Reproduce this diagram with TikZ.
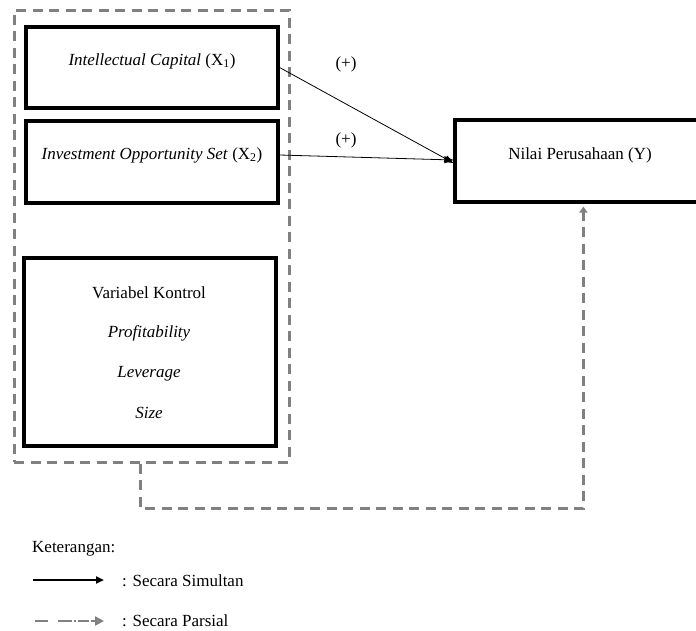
\documentclass[tikz,border=0pt]{standalone}
\usepackage{fontspec}
\setmainfont{Liberation Serif}
\usetikzlibrary{arrows.meta,calc}
\definecolor{dgray}{HTML}{808080}
\tikzset{
  vbox/.style={draw=black,line width=3.2pt,minimum width=252pt,inner sep=0pt,align=center},
  grpbox/.style={draw=dgray,line width=3pt,dash pattern=on 10pt off 6.5pt,inner sep=0pt},
  link/.style={draw=black,line width=0.8pt,-{Triangle[length=9pt,width=7pt]}},
  partial/.style={draw=dgray,line width=3pt,dash pattern=on 10pt off 6.5pt},
  lbl/.style={font=\fontsize{17}{20}\selectfont,inner sep=0pt},
}
\begin{document}
\begin{tikzpicture}[x=1pt,y=-1pt]
\useasboundingbox (0,0) rectangle (696,630);
\clip (0,0) rectangle (696,630);
\node[grpbox,minimum width=275pt,minimum height=452pt] (grp) at (151.5,236) {};
\node[vbox,minimum height=81pt] (b1) at (152,67.5) {};
\node[lbl] (t1) at (152,61) {\textit{Intellectual Capital} (X\textsubscript{1})};
\node[vbox,minimum height=82pt] (b2) at (152,162) {};
\node[lbl] (t2) at (152,155) {\textit{Investment Opportunity Set} (X\textsubscript{2})};
\node[vbox,minimum height=188pt] (b3) at (150,352) {};
\node[lbl] (v1) at (149,293) {Variabel Kontrol};
\node[lbl] (v2) at (149,333) {\textit{Profitability}};
\node[lbl] (v3) at (149,374) {\textit{Leverage}};
\node[lbl] (v4) at (149,413) {\textit{Size}};
\node[vbox,minimum width=250pt,minimum height=82pt] (y) at (580,161) {};
\node[lbl] (ty) at (580,155) {Nilai Perusahaan (Y)};
\node[lbl] (p1) at (346,64) {(+)};
\node[lbl] (p2) at (346,140) {(+)};
\draw[link] (b1.east) -- ($(y.west)+(0,2)$);
\draw[link] ($(b2.east)+(0,-7)$) -- ($(y.west)+(0,-1)$);
\coordinate (c1) at ($(grp.south west)+(128,0)$);
\coordinate (c2) at ($(c1)+(0,45)$);
\coordinate (c3) at ($(y.south west)+(130,0)$);
\draw[partial] (c1) -- (c2) -| ($(c3)+(0,14)$);
\draw[draw=dgray,line width=3pt,-{Triangle[length=6pt,width=8pt]}] ($(c3)+(0,14)$) -- ($(c3)+(0,3)$);
\node[lbl,anchor=west] (ket) at (32,549) {Keterangan:};
\coordinate (l1a) at (33,580);
\coordinate (l1b) at (104,580);
\draw[line width=2pt,-{Triangle[length=8pt,width=7pt]}] (l1a) -- (l1b);
\node[lbl,anchor=west] (s1) at (122,581) {: Secara Simultan};
\coordinate (l2a) at (35,621);
\coordinate (l2b) at (104,621);
\draw[draw=dgray,line width=2.4pt,dash pattern=on 13pt off 10pt on 14pt off 2pt on 1.5pt off 2pt on 11pt off 2pt,-{Triangle[length=9pt,width=9pt,fill=dgray!70]}] (l2a) -- (l2b);
\node[lbl,anchor=west] (s2) at (122,621) {: Secara Parsial};
\end{tikzpicture}
\end{document}
